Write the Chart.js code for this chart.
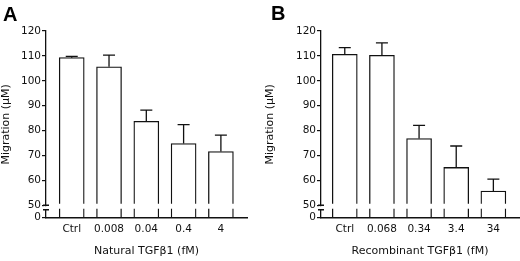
<!DOCTYPE html>
<html>
<head>
<meta charset="utf-8">
<script src="https://cdn.jsdelivr.net/npm/chart.js@4"></script>
<style>
  html, body { margin: 0; padding: 0; background: #fff; }
  #wrap { position: relative; width: 520px; height: 261px; }
  canvas { position: absolute; top: 0; }
  #graphA { left: 0; }
  #graphB { left: 260px; }
  .panel { position: absolute; font: bold 20px "Liberation Sans", Arial, sans-serif; line-height: 20px; color: #000; }
</style>
</head>
<body>
<div id="wrap">
  <canvas id="graphA" width="260" height="261"></canvas>
  <canvas id="graphB" width="260" height="261"></canvas>
  <div class="panel" style="left:3px; top:4px;">A</div>
  <div class="panel" style="left:271px; top:3px;">B</div>
</div>
<script>
//////////////////////////////////////////////////////////
/* DATA */
const categoriesA = ['Ctrl', '0.008', '0.04', '0.4', '4'];
const migrationA = [109.3, 105.6, 83.7, 74.8, 71.6];
const errorA = [0.5, 4.7, 4.5, 7.6, 6.6];

const categoriesB = ['Ctrl', '0.068', '0.34', '3.4', '34'];
const migrationB = [110.6, 110.2, 76.8, 65.2, 55.7];
const errorB = [2.7, 5.0, 5.3, 8.6, 4.8];

const yTickLabels = [0, 50, 60, 70, 80, 90, 100, 110, 120];

// the axis is broken between 0 and 50, "0" sits where 45 would be
const AXIS_ZERO = 45;
const INK = '#111';
const FONT = '"DejaVu Sans", Verdana, sans-serif';

//---------------------------------------------
/* error bars (upward only) + the axis break, drawn on top of everything */
const errorBars = {
  id: 'errorBars',
  afterDraw(chart, args, opts) {
    const ctx = chart.ctx;
    const y = chart.scales.y;
    const meta = chart.getDatasetMeta(0);
    const vals = chart.data.datasets[0].data;
    ctx.save();
    ctx.strokeStyle = INK;
    ctx.lineWidth = 1.3;
    meta.data.forEach((bar, i) => {
      const top = y.getPixelForValue(vals[i].y + opts.errors[i]);
      ctx.beginPath();
      ctx.moveTo(bar.x, bar.y);
      ctx.lineTo(bar.x, top);
      ctx.moveTo(bar.x - 6, top);
      ctx.lineTo(bar.x + 6, top);
      ctx.stroke();
    });

    // break in the bars and in the y axis
    const area = chart.chartArea;
    ctx.fillStyle = '#fff';
    const b1 = y.getPixelForValue(50.6), b2 = y.getPixelForValue(48.6);
    ctx.fillRect(area.left + 1, b1, area.right - area.left - 1, b2 - b1);
    const a1 = y.getPixelForValue(50), a2 = y.getPixelForValue(48.2);
    ctx.fillRect(area.left - 2, a1 + 1, 4, a2 - a1 - 1);
    ctx.beginPath();
    ctx.moveTo(area.left - 3, a1); ctx.lineTo(area.left + 3, a1);
    ctx.moveTo(area.left - 3, a2); ctx.lineTo(area.left + 3, a2);
    ctx.stroke();
    ctx.restore();
  }
};

//---------------------------------------------
function makeCfg(cats, vals, errs, xTitle, lay) {
  return {
    type: 'bar',
    data: {
      datasets: [{
        data: cats.map((c, i) => ({ x: i, y: vals[i] })),
        backgroundColor: '#fff',
        borderColor: INK,
        borderWidth: 1.3,
        barThickness: 25
      }]
    },
    options: {
      responsive: false,
      animation: false,
      devicePixelRatio: 1,
      layout: { padding: { left: 0, top: 31, right: lay.right, bottom: 0 } },
      plugins: {
        legend: { display: false },
        tooltip: { enabled: false },
        errorBars: { errors: errs }
      },
      scales: {
        x: {
          type: 'linear',
          offset: false,
          min: lay.xMin,
          max: lay.xMax,
          afterBuildTicks: s => { s.ticks = cats.map((c, i) => ({ value: i })); },
          afterFit: s => { s.height = 43.3; },
          ticks: {
            callback: v => cats[v],
            font: { family: FONT, size: 10.5 },
            color: INK,
            padding: 5,
            autoSkip: false,
            maxRotation: 0
          },
          grid: { drawOnChartArea: false, drawTicks: false, offset: false },
          border: { color: INK, width: 1.4, z: 1 },
          title: {
            display: true,
            text: xTitle,
            font: { family: FONT, size: 11 },
            color: INK,
            padding: { top: 0, bottom: 3.7 }
          }
        },
        y: {
          min: AXIS_ZERO,
          max: 120,
          afterBuildTicks: s => {
            s.ticks = yTickLabels.map(l => ({ value: l === 0 ? AXIS_ZERO : l }));
          },
          afterFit: s => { s.width = lay.left; },
          ticks: {
            callback: v => (v === AXIS_ZERO ? '0' : v),
            font: { family: FONT, size: 10.5 },
            color: INK,
            padding: 1
          },
          grid: { drawOnChartArea: false, tickLength: 4, color: INK, lineWidth: 1.2 },
          border: { color: INK, width: 1.3, z: 1 },
          title: {
            display: true,
            text: 'Migration (\u03bcM)',
            font: { family: FONT, size: 11 },
            color: INK,
            padding: { top: lay.yTitlePad, bottom: 0 }
          }
        }
      }
    },
    plugins: [errorBars]
  };
}

////////////////////////////////////////////////////////
/* DRAWING THE TWO PANELS */
function drawgraph(canva, config) {
  new Chart(document.getElementById(canva), config);
}

drawgraph('graphA', makeCfg(categoriesA, migrationA, errorA, 'Natural TGF\u03b21 (fM)',
  { left: 46, right: 13, xMin: -0.69, xMax: 4.7, yTitlePad: 0 }));
drawgraph('graphB', makeCfg(categoriesB, migrationB, errorB, 'Recombinant TGF\u03b21 (fM)',
  { left: 61, right: 1, xMin: -0.64, xMax: 4.69, yTitlePad: 3.4 }));
</script>
</body>
</html>
